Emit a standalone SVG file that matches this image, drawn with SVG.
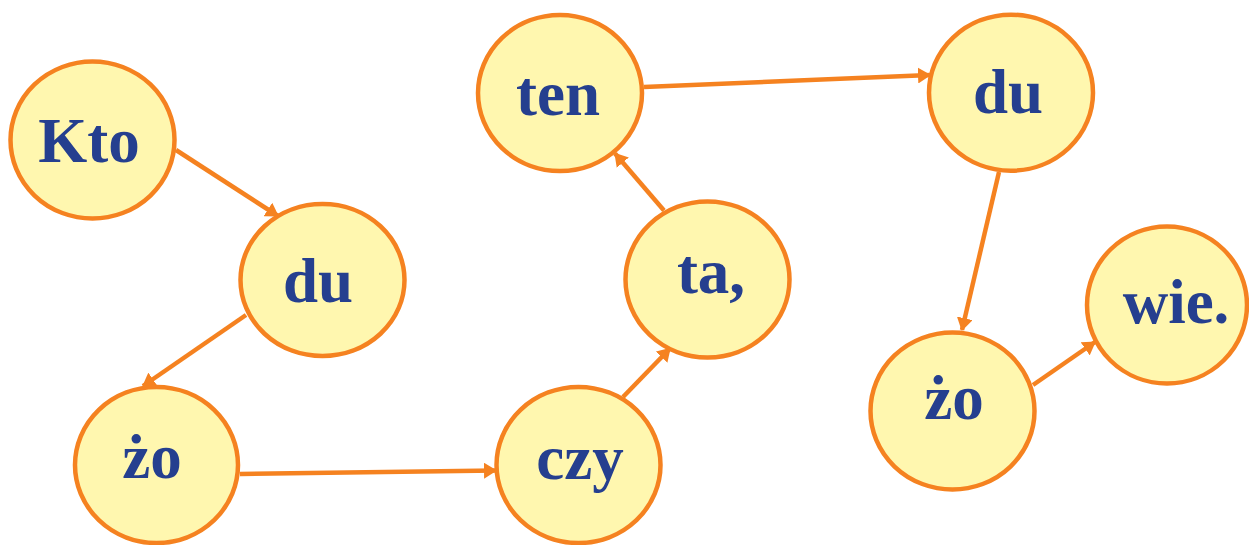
<svg xmlns="http://www.w3.org/2000/svg" width="1249" height="545" viewBox="0 0 1249 545">
<style>
.n ellipse{fill:#FFF7AF;stroke:#F58220;stroke-width:4.5}
.n text{font-family:"Liberation Serif","Times New Roman",serif;font-weight:bold;font-size:63px;fill:#253F8F;text-anchor:middle}
.c line{stroke:#F58220;stroke-width:4.5;marker-end:url(#ah)}
</style>
<defs>
<marker id="ah" markerUnits="userSpaceOnUse" markerWidth="13" markerHeight="16" refX="12" refY="8" orient="auto">
<path d="M0,0 L13,8 L0,16 z" fill="#F58220"/>
</marker>
</defs>
<rect width="1249" height="545" fill="#FFFFFF"/>
<g class="c" id="connectors">
<line x1="176" y1="150" x2="278" y2="216"/>
<line x1="246" y1="315" x2="143" y2="386"/>
<line x1="240" y1="474" x2="496" y2="470.5"/>
<line x1="623" y1="397" x2="670" y2="348.5"/>
<line x1="664" y1="210.5" x2="615" y2="153.5"/>
<line x1="644" y1="87" x2="930" y2="75"/>
<line x1="999" y1="172" x2="962" y2="330"/>
<line x1="1033" y1="385" x2="1095" y2="342"/>
</g>
<g class="n" id="n-kto"><ellipse cx="92.5" cy="140" rx="82" ry="78.5"/><text x="89" y="162">Kto</text></g>
<g class="n" id="n-du1"><ellipse cx="322.5" cy="280" rx="82" ry="76"/><text x="318" y="302">du</text></g>
<g class="n" id="n-zo1"><ellipse cx="156.5" cy="465" rx="81.5" ry="78"/><text x="152" y="478">żo</text></g>
<g class="n" id="n-czy"><ellipse cx="578.5" cy="465" rx="82" ry="78"/><text x="580" y="479">czy</text></g>
<g class="n" id="n-ta"><ellipse cx="707.5" cy="279.5" rx="82" ry="78"/><text x="711" y="293">ta,</text></g>
<g class="n" id="n-ten"><ellipse cx="560" cy="93" rx="82" ry="78"/><text x="558" y="115">ten</text></g>
<g class="n" id="n-du2"><ellipse cx="1011" cy="92.7" rx="82" ry="78"/><text x="1008" y="113">du</text></g>
<g class="n" id="n-zo2"><ellipse cx="952.5" cy="411" rx="82" ry="78.5"/><text x="954" y="419">żo</text></g>
<g class="n" id="n-wie"><ellipse cx="1167" cy="305" rx="80" ry="78.5"/><text x="1176" y="323">wie.</text></g>
</svg>
